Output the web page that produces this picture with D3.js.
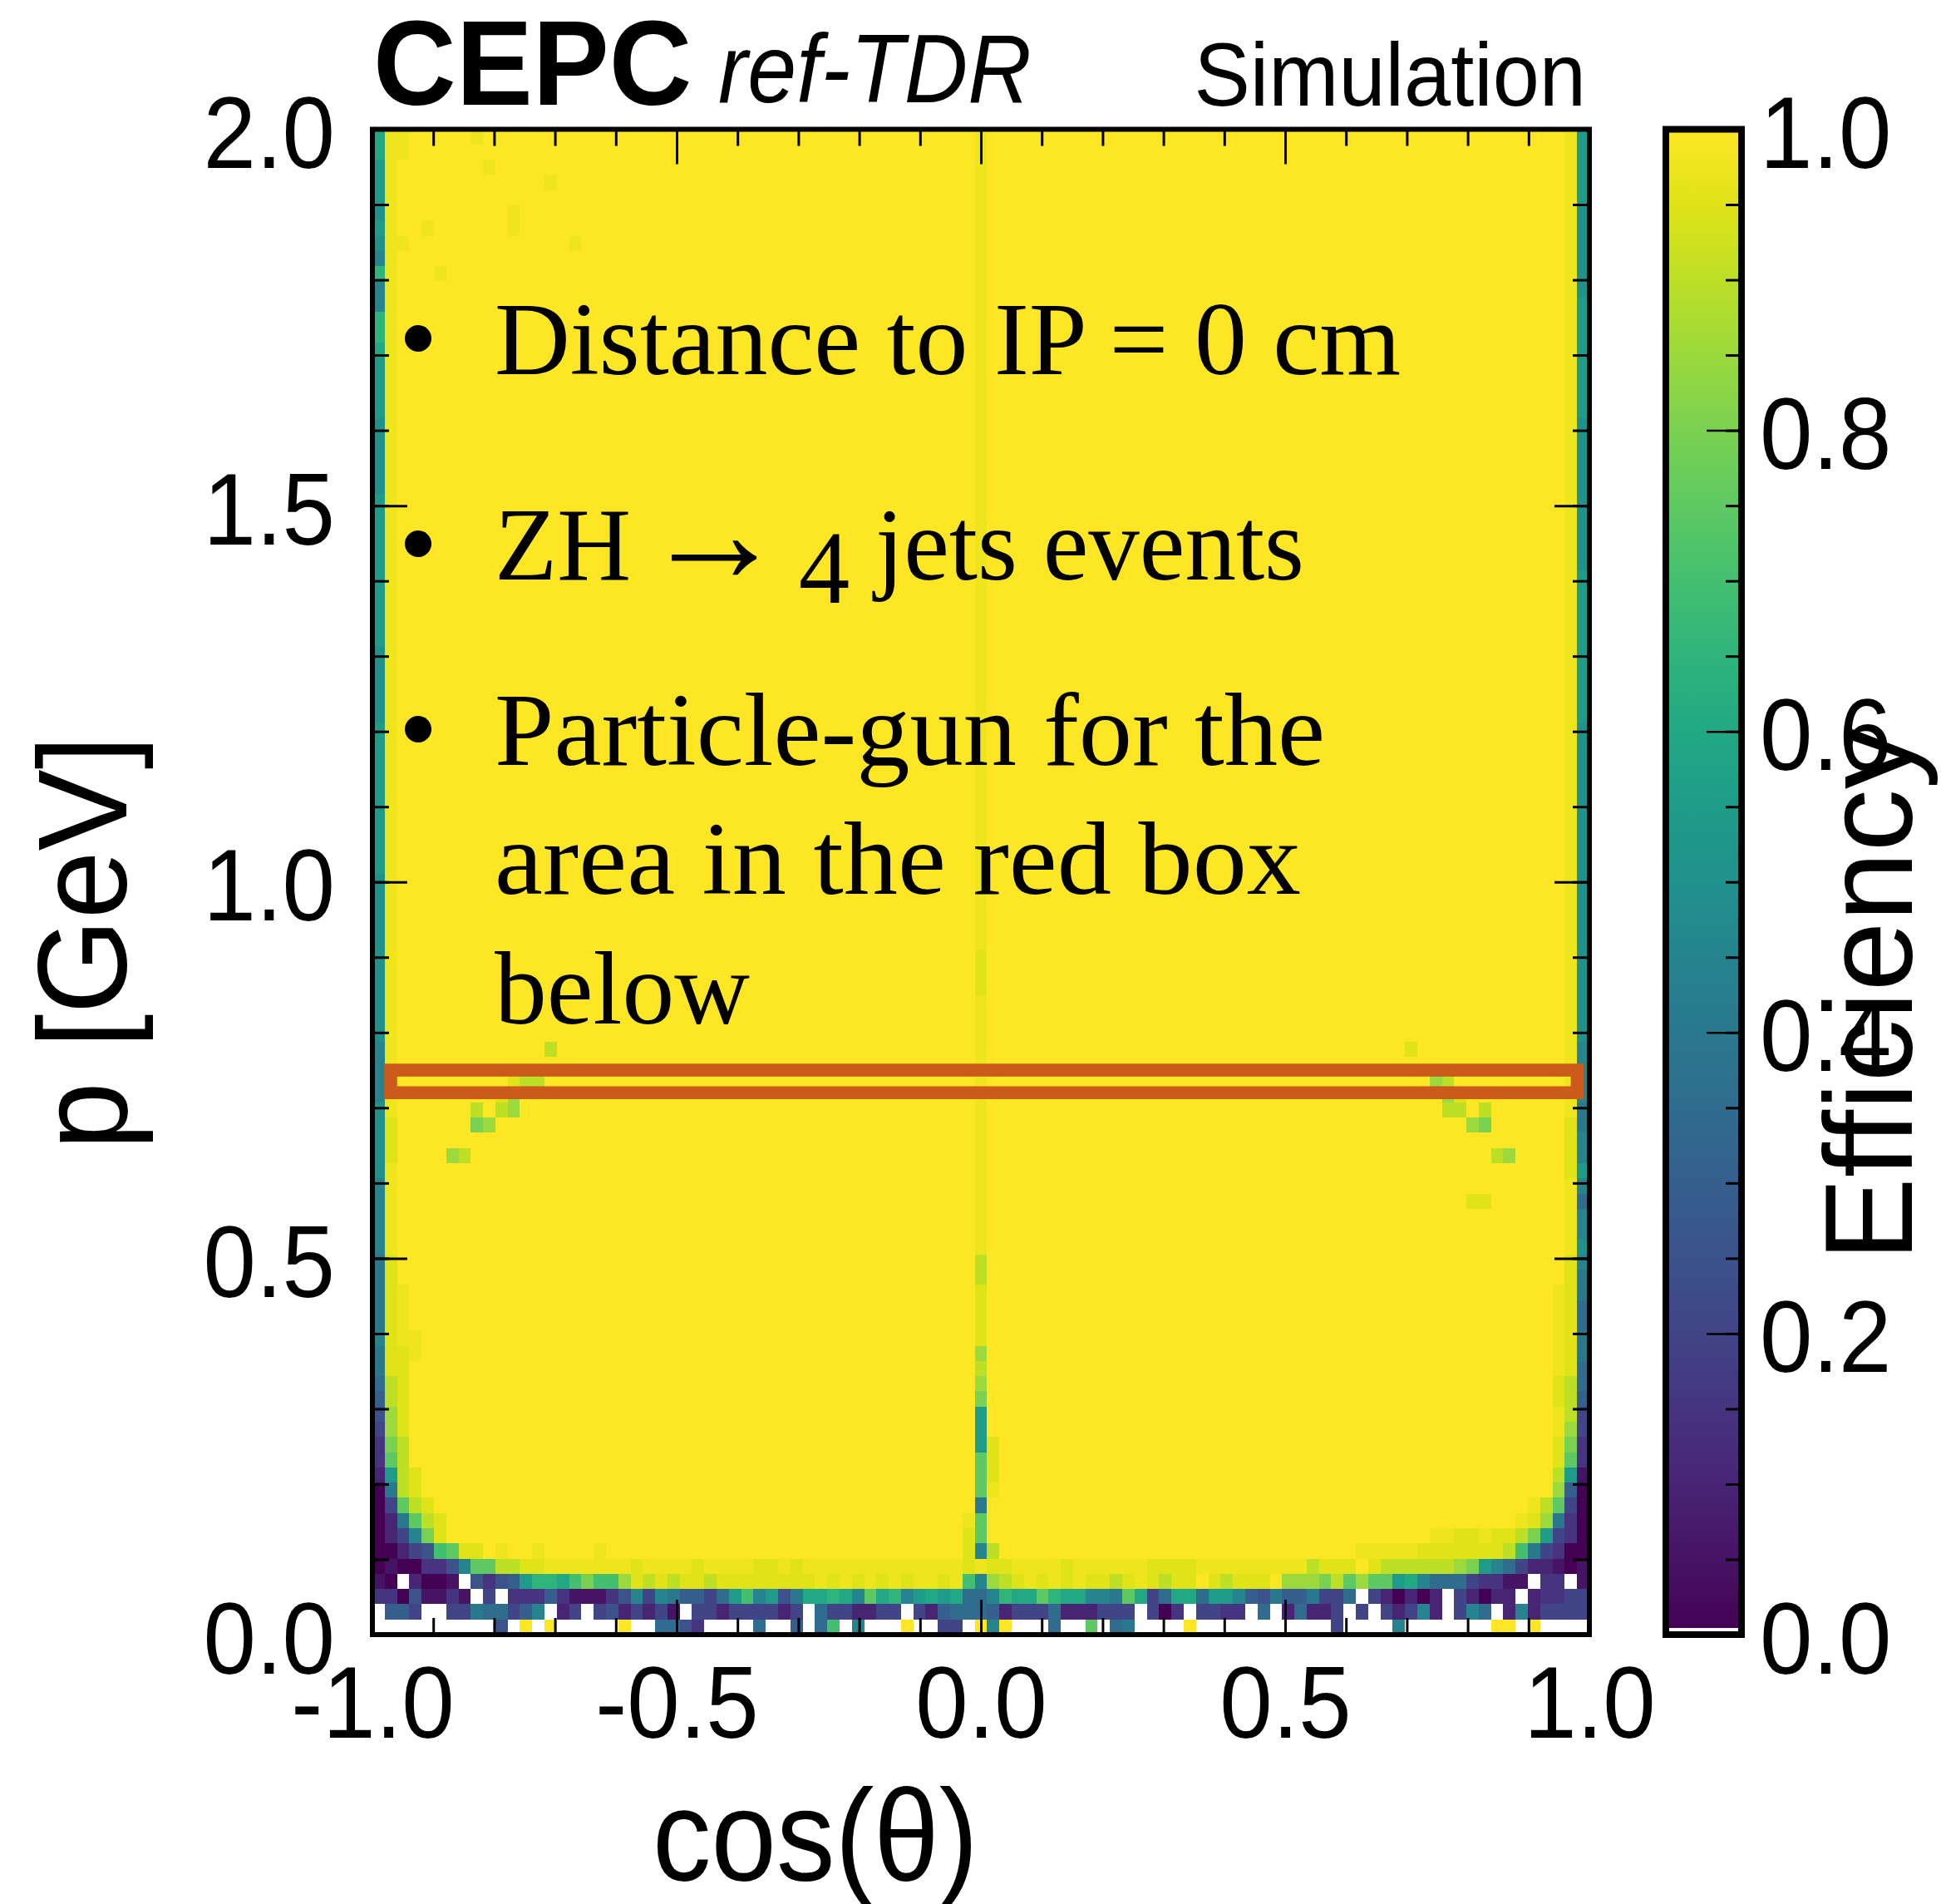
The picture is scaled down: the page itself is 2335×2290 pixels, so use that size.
<!DOCTYPE html>
<html>
<head>
<meta charset="utf-8">
<script src="https://cdn.jsdelivr.net/npm/d3@7"></script>
<style>
body { margin: 0; background: #fff; }
svg { display: block; }
</style>
</head>
<body>
<div id="chart"></div>
<script>
/*
 * efficiency map, p vs cos(theta), 99 x 99 bins
 */

var cosRange = [-1, 1];
var pRange = [0, 2];
var nCosBins = 99;
var nPBins = 99;

var xMajorTicks = [-1, -0.5, 0, 0.5, 1];
var yMajorTicks = [0, 0.5, 1, 1.5, 2];
var zMajorTicks = [0, 0.2, 0.4, 0.6, 0.8, 1];
var xMinorStep = 0.1, yMinorStep = 0.1, zMinorStep = 0.05;

/* one char per bin: index in effLevels / 20, "z" = 0.975, "." = no entries */
var effLevels = "0123456789ABCDEFGHIJK";

/* rows from top (p ~ 2 GeV) to bottom (p ~ 0), columns cos = -1 .. 1, grouped by 10 */
var effRows = [
"CzzKKKKKzK KKKKKKKKKK KKKKKKKKKK KKKKKKKKKK KKKKKKKKKz KKKKKKKKKK KKKKKKKKKK KKKKKKKKKK KKKKKKKKKK KKKKKKKzB",
"CzzKKKKKKK KKKKKKKKKK KKKKKKKKKK KKKKKKKKKK KKKKKKKKKz KKKKKKKKKK KKKKKKKKKK KKKKKKKKKK KKKKKKKKKK KKKKKKKzB",
"BzKKKKKKKz KKKKKKKKKK KKKKKKKKKK KKKKKKKKKK KKKKKKKKKz KKKKKKKKKK KKKKKKKKKK KKKKKKKKKK KKKKKKKKKK KKKKKKKzB",
"BzKKKKKKKK KKKKzKKKKK KKKKKKKKKK KKKKKKKKKK KKKKKKKKKz KKKKKKKKKK KKKKKKKKKK KKKKKKKKKK KKKKKKKKKK KKKKKKKzB",
"BzKKKKKKKK KKKKKKKKKK KKKKKKKKKK KKKKKKKKKK KKKKKKKKKz KKKKKKKKKK KKKKKKKKKK KKKKKKKKKK KKKKKKKKKK KKKKKKKzB",
"AzKKKKKKKK KzKKKKKKKK KKKKKKKKKK KKKKKKKKKK KKKKKKKKKz KKKKKKKKKK KKKKKKKKKK KKKKKKKKKK KKKKKKKKKK KKKKKKKzA",
"BzKKzKKKKK KzKKKKKKKK KKKKKKKKKK KKKKKKKKKK KKKKKKKKKz KKKKKKKKKK KKKKKKKKKK KKKKKKKKKK KKKKKKKKKK KKKKKKKzA",
"AzzKKKKKKK KKKKKKzKKK KKKKKKKKKK KKKKKKKKKK KKKKKKKKKz KKKKKKKKKK KKKKKKKKKK KKKKKKKKKK KKKKKKKKKK KKKKKKKzA",
"9zKKKKKKKK KKKKKKKKKK KKKKKKKKKK KKKKKKKKKK KKKKKKKKKz KKKKKKKKKK KKKKKKKKKK KKKKKKKKKK KKKKKKKKKK KKKKKKKzA",
"DzKKKzKKKK KKKKKKKKKK KKKKKKKKKK KKKKKKKKKK KKKKKKKKKz KKKKKKKKKK KKKKKKKKKK KKKKKKKKKK KKKKKKKKKK KKKKKKKzA",
"9zKKKKKKKK KKKKKKKKKK KKKKKKKKKK KKKKKKKKKK KKKKKKKKKz KKKKKKKKKK KKKKKKKKKK KKKKKKKKKK KKKKKKKKKK KKKKKKKzA",
"9zKKKKKKKK KKKKKKKKKK KKKKKKKKKK KKKKKKKKKK KKKKKKKKKz KKKKKKKKKK KKKKKKKKKK KKKKKKKKKK KKKKKKKKKK KKKKKKKzB",
"DzKKKKKKKK KKKKKKKKKK KKKKKKKKKK KKKKKKKKKK KKKKKKKKKz KKKKKKKKKK KKKKKKKKKK KKKKKKKKKK KKKKKKKKKK KKKKKKKzB",
"DzKKKKKKKK KKKKKKKKKK KKKKKKKKKK KKKKKKKKKK KKKKKKKKKz KKKKKKKKKK KKKKKKKKKK KKKKKKKKKK KKKKKKKKKK KKKKKKKzB",
"CzKKKKKKKK KKKKKKKKKK KKKKKKKKKK KKKKKKKKKK KKKKKKKKKz KKKKKKKKKK KKKKKKKKKK KKKKKKKKKK KKKKKKKKKK KKKKKKKzB",
"BzKKKKKKKK KKKKKKKKKK KKKKKKKKKK KKKKKKKKKK KKKKKKKKKz KKKKKKKKKK KKKKKKKKKK KKKKKKKKKK KKKKKKKKKK KKKKKKKzB",
"BzKKKKKKKK KKKKKKKKKK KKKKKKKKKK KKKKKKKKKK KKKKKKKKKz KKKKKKKKKK KKKKKKKKKK KKKKKKKKKK KKKKKKKKKK KKKKKKKzB",
"BzKKKKKKKK KKKKKKKKKK KKKKKKKKKK KKKKKKKKKK KKKKKKKKKz KKKKKKKKKK KKKKKKKKKK KKKKKKKKKK KKKKKKKKKK KKKKKKKzB",
"BzKKKKKKKK KKKKKKKKKK KKKKKKKKKK KKKKKKKKKK KKKKKKKKKz KKKKKKKKKK KKKKKKKKKK KKKKKKKKKK KKKKKKKKKK KKKKKKKzB",
"AzKKKKKKKK KKKKKKKKKK KKKKKKKKKK KKKKKKKKKK KKKKKKKKKz KKKKKKKKKK KKKKKKKKKK KKKKKKKKKK KKKKKKKKKK KKKKKKKzA",
"AzKKKKKKKK KKKKKKKKKK KKKKKKKKKK KKKKKKKKKK KKKKKKKKKz KKKKKKKKKK KKKKKKKKKK KKKKKKKKKK KKKKKKKKKK KKKKKKKzA",
"AzKKKKKKKK KKKKKKKKKK KKKKKKKKKK KKKKKKKKKK KKKKKKKKKz KKKKKKKKKK KKKKKKKKKK KKKKKKKKKK KKKKKKKKKK KKKKKKKzA",
"AzKKKKKKKK KKKKKKKKKK KKKKKKKKKK KKKKKKKKKK KKKKKKKKKz KKKKKKKKKK KKKKKKKKKK KKKKKKKKKK KKKKKKKKKK KKKKKKKzA",
"AzKKKKKKKK KKKKKKKKKK KKKKKKKKKK KKKKKKKKKK KKKKKKKKKz KKKKKKKKKK KKKKKKKKKK KKKKKKKKKK KKKKKKKKKK KKKKKKKzA",
"BzKKKKKKKK KKKKKKKKKK KKKKKKKKKK KKKKKKKKKK KKKKKKKKKz KKKKKKKKKK KKKKKKKKKK KKKKKKKKKK KKKKKKKKKK KKKKKKKzA",
"BzKKKKKKKK KKKKKKKKKK KKKKKKKKKK KKKKKKKKKK KKKKKKKKKz KKKKKKKKKK KKKKKKKKKK KKKKKKKKKK KKKKKKKKKK KKKKKKKzA",
"BzKKKKKKKK KKKKKKKKKK KKKKKKKKKK KKKKKKKKKK KKKKKKKKKz KKKKKKKKKK KKKKKKKKKK KKKKKKKKKK KKKKKKKKKK KKKKKKKzA",
"BzKKKKKKKK KKKKKKKKKK KKKKKKKKKK KKKKKKKKKK KKKKKKKKKz KKKKKKKKKK KKKKKKKKKK KKKKKKKKKK KKKKKKKKKK KKKKKKKzA",
"BzKKKKKKKK KKKKKKKKKK KKKKKKKKKK KKKKKKKKKK KKKKKKKKKz KKKKKKKKKK KKKKKKKKKK KKKKKKKKKK KKKKKKKKKK KKKKKKKzA",
"BzKKKKKKKK KKKKKKKKKK KKKKKKKKKK KKKKKKKKKK KKKKKKKKKz KKKKKKKKKK KKKKKKKKKK KKKKKKKKKK KKKKKKKKKK KKKKKKKzB",
"BzKKKKKKKK KKKKKKKKKK KKKKKKKKKK KKKKKKKKKK KKKKKKKKKz KKKKKKKKKK KKKKKKKKKK KKKKKKKKKK KKKKKKKKKK KKKKKKKzB",
"BzKKKKKKKK KKKKKKKKKK KKKKKKKKKK KKKKKKKKKK KKKKKKKKKz KKKKKKKKKK KKKKKKKKKK KKKKKKKKKK KKKKKKKKKK KKKKKKKzB",
"BzKKKKKKKK KKKKKKKKKK KKKKKKKKKK KKKKKKKKKK KKKKKKKKKz KKKKKKKKKK KKKKKKKKKK KKKKKKKKKK KKKKKKKKKK KKKKKKKzB",
"BzKKKKKKKK KKKKKKKKKK KKKKKKKKKK KKKKKKKKKK KKKKKKKKKz KKKKKKKKKK KKKKKKKKKK KKKKKKKKKK KKKKKKKKKK KKKKKKKzB",
"AzKKKKKKKK KKKKKKKKKK KKKKKKKKKK KKKKKKKKKK KKKKKKKKKz KKKKKKKKKK KKKKKKKKKK KKKKKKKKKK KKKKKKKKKK KKKKKKKzB",
"AzKKKKKKKK KKKKKKKKKK KKKKKKKKKK KKKKKKKKKK KKKKKKKKKz KKKKKKKKKK KKKKKKKKKK KKKKKKKKKK KKKKKKKKKK KKKKKKKzB",
"AzKKKKKKKK KKKKKKKKKK KKKKKKKKKK KKKKKKKKKK KKKKKKKKKz KKKKKKKKKK KKKKKKKKKK KKKKKKKKKK KKKKKKKKKK KKKKKKKzB",
"AzKKKKKKKK KKKKKKKKKK KKKKKKKKKK KKKKKKKKKK KKKKKKKKKz KKKKKKKKKK KKKKKKKKKK KKKKKKKKKK KKKKKKKKKK KKKKKKKzB",
"AzKKKKKKKK KKKKKKKKKK KKKKKKKKKK KKKKKKKKKK KKKKKKKKKz KKKKKKKKKK KKKKKKKKKK KKKKKKKKKK KKKKKKKKKK KKKKKKKzB",
"BzKKKKKKKK KKKKKKKKKK KKKKKKKKKK KKKKKKKKKK KKKKKKKKKz KKKKKKKKKK KKKKKKKKKK KKKKKKKKKK KKKKKKKKKK KKKKKKKzA",
"BzKKKKKKKK KKKKKKKKKK KKKKKKKKKK KKKKKKKKKK KKKKKKKKKz KKKKKKKKKK KKKKKKKKKK KKKKKKKKKK KKKKKKKKKK KKKKKKKzA",
"BzKKKKKKKK KKKKKKKKKK KKKKKKKKKK KKKKKKKKKK KKKKKKKKKz KKKKKKKKKK KKKKKKKKKK KKKKKKKKKK KKKKKKKKKK KKKKKKKzA",
"BzKKKKKKKK KKKKKKKKKK KKKKKKKKKK KKKKKKKKKK KKKKKKKKKz KKKKKKKKKK KKKKKKKKKK KKKKKKKKKK KKKKKKKKKK KKKKKKKzA",
"BzKKKKKKKK KKKKKKKKKK KKKKKKKKKK KKKKKKKKKK KKKKKKKKKz KKKKKKKKKK KKKKKKKKKK KKKKKKKKKK KKKKKKKKKK KKKKKKKzA",
"BzKKKKKKKK KKKKKKKKKK KKKKKKKKKK KKKKKKKKKK KKKKKKKKKz KKKKKKKKKK KKKKKKKKKK KKKKKKKKKK KKKKKKKKKK KKKKKKKzA",
"BzKKKKKKKK KKKKKKKKKK KKKKKKKKKK KKKKKKKKKK KKKKKKKKKz KKKKKKKKKK KKKKKKKKKK KKKKKKKKKK KKKKKKKKKK KKKKKKKzA",
"BzKKKKKKKK KKKKKKKKKK KKKKKKKKKK KKKKKKKKKK KKKKKKKKKz KKKKKKKKKK KKKKKKKKKK KKKKKKKKKK KKKKKKKKKK KKKKKKKzA",
"BzKKKKKKKK KKKKKKKKKK KKKKKKKKKK KKKKKKKKKK KKKKKKKKKz KKKKKKKKKK KKKKKKKKKK KKKKKKKKKK KKKKKKKKKK KKKKKKKzA",
"BzKKKKKKKK KKKKKKKKKK KKKKKKKKKK KKKKKKKKKK KKKKKKKKKz KKKKKKKKKK KKKKKKKKKK KKKKKKKKKK KKKKKKKKKK KKKKKKKzA",
"AzKKKKKKKK KKKKKKKKKK KKKKKKKKKK KKKKKKKKKK KKKKKKKKKz KKKKKKKKKK KKKKKKKKKK KKKKKKKKKK KKKKKKKKKK KKKKKKKzA",
"AzKKKKKKKK KKKKKKKKKK KKKKKKKKKK KKKKKKKKKK KKKKKKKKKz KKKKKKKKKK KKKKKKKKKK KKKKKKKKKK KKKKKKKKKK KKKKKKKzA",
"AzKKKKKKKK KKKKKKKKKK KKKKKKKKKK KKKKKKKKKK KKKKKKKKKz KKKKKKKKKK KKKKKKKKKK KKKKKKKKKK KKKKKKKKKK KKKKKKKzA",
"AzKKKKKKKK KKKKKKKKKK KKKKKKKKKK KKKKKKKKKK KKKKKKKKKz KKKKKKKKKK KKKKKKKKKK KKKKKKKKKK KKKKKKKKKK KKKKKKKzA",
"AzKKKKKKKK KKKKKKKKKK KKKKKKKKKK KKKKKKKKKK KKKKKKKKKz KKKKKKKKKK KKKKKKKKKK KKKKKKKKKK KKKKKKKKKK KKKKKKKzA",
"AzKKKKKKKK KKKKKKKKKK KKKKKKKKKK KKKKKKKKKK KKKKKKKKKJ KKKKKKKKKK KKKKKKKKKK KKKKKKKKKK KKKKKKKKKK KKKKKKKzA",
"AzKKKKKKKK KKKKKKKKKK KKKKKKKKKK KKKKKKKKKK KKKKKKKKKJ KKKKKKKKKK KKKKKKKKKK KKKKKKKKKK KKKKKKKKKK KKKKKKKzA",
"AzKKKKKKKK KKKKKKKKKK KKKKKKKKKK KKKKKKKKKK KKKKKKKKKJ KKKKKKKKKK KKKKKKKKKK KKKKKKKKKK KKKKKKKKKK KKKKKKKzA",
"AzKKKKKKKK KKKKKKKKKK KKKKKKKKKK KKKKKKKKKK KKKKKKKKKz KKKKKKKKKK KKKKKKKKKK KKKKKKKKKK KKKKKKKKKK KKKKKKKzA",
"AzKKKKKKKK KKKKKKKKKK KKKKKKKKKK KKKKKKKKKK KKKKKKKKKz KKKKKKKKKK KKKKKKKKKK KKKKKKKKKK KKKKKKKKKK KKKKKKKzA",
"AzKKKKKKKK KKKKKKKKKK KKKKKKKKKK KKKKKKKKKK KKKKKKKKKz KKKKKKKKKK KKKKKKKKKK KKKKKKKKKK KKKKKKKKKK KKKKKKKzA",
"9zKKKKKKKK KKKKIKKKKK KKKKKKKKKK KKKKKKKKKK KKKKKKKKKz KKKKKKKKKK KKKKKKKKKK KKKKKKKKKK KKKKJKKKKK KKKKKKKz9",
"9zKKKKKKKK KKKKKKKKKK KKKKKKKKKK KKKKKKKKKK KKKKKKKKKz KKKKKKKKKK KKKKKKKKKK KKKKKKKKKK KKKKKKKKKK KKKKKKKz9",
"9zKKKKKKKK KJIIKKKKKK KKKKKKKKKK KKKKKKKKKK KKKKKKKKKz KKKKKKKKKK KKKKKKKKKK KKKKKKKKKK KKKKKKHIKK KKKKKKKz9",
"9zKKKKKKKK JHKKKKKKKK KKKKKKKKKK KKKKKKKKKK KKKKKKKKKz KKKKKKKKKK KKKKKKKKKK KKKKKKKKKK KKKKKKKHJK KKKKKKKz9",
"AzKKKKKKIK IHKKKKKKKK KKKKKKKKKK KKKKKKKKKK KKKKKKKKKz KKKKKKKKKK KKKKKKKKKK KKKKKKKKKK KKKKKKKIIK IKKKKKKz8",
"AJKKKKKKGH KKKKKKKKKK KKKKKKKKKK KKKKKKKKKK KKKKKKKKKz KKKKKKKKKK KKKKKKKKKK KKKKKKKKKK KKKKKKKKKH GKKKKKKJ8",
"AJKKKKKKKK KKKKKKKKKK KKKKKKKKKK KKKKKKKKKK KKKKKKKKKz KKKKKKKKKK KKKKKKKKKK KKKKKKKKKK KKKKKKKKKK KKKKKKKJ9",
"AJKKKKHIKK KKKKKKKKKK KKKKKKKKKK KKKKKKKKKK KKKKKKKKKz KKKKKKKKKK KKKKKKKKKK KKKKKKKKKK KKKKKKKKKK KIHKKKKJ9",
"AzKKKKKKKK KKKKKKKKKK KKKKKKKKKK KKKKKKKKKK KKKKKKKKKz KKKKKKKKKK KKKKKKKKKK KKKKKKKKKK KKKKKKKKKK KKKKKKKJB",
"9zKKKKKKKK KKKKKKKKKK KKKKKKKKKK KKKKKKKKKK KKKKKKKKKz KKKKKKKKKK KKKKKKKKKK KKKKKKKKKK KKKKKKKKKK KKKKKKKz9",
"9zKKKKKKKK KKKKKKKKKK KKKKKKKKKK KKKKKKKKKK KKKKKKKKKz KKKKKKKKKK KKKKKKKKKK KKKKKKKKKK KKKKKKKKKJ JKKKKKKz7",
"9zKKKKKKKK KKKKKKKKKK KKKKKKKKKK KKKKKKKKKK KKKKKKKKKz KKKKKKKKKK KKKKKKKKKK KKKKKKKKKK KKKKKKKKKK KKKKKKKz9",
"9zKKKKKKKK KKKKKKKKKK KKKKKKKKKK KKKKKKKKKK KKKKKKKKKz KKKKKKKKKK KKKKKKKKKK KKKKKKKKKK KKKKKKKKKK KKKKKKKz9",
"9zKKKKKKKK KKKKKKKKKK KKKKKKKKKK KKKKKKKKKK KKKKKKKKKz KKKKKKKKKK KKKKKKKKKK KKKKKKKKKK KKKKKKKKKK KKKKKKKzA",
"8JKKKKKKKK KKKKKKKKKK KKKKKKKKKK KKKKKKKKKK KKKKKKKKKI KKKKKKKKKK KKKKKKKKKK KKKKKKKKKK KKKKKKKKKK KKKKKKKJ9",
"8JKKKKKKKK KKKKKKKKKK KKKKKKKKKK KKKKKKKKKK KKKKKKKKKI KKKKKKKKKK KKKKKKKKKK KKKKKKKKKK KKKKKKKKKK KKKKKKKJ8",
"8JzKKKKKKK KKKKKKKKKK KKKKKKKKKK KKKKKKKKKK KKKKKKKKKJ KKKKKKKKKK KKKKKKKKKK KKKKKKKKKK KKKKKKKKKK KKKKKKzJ8",
"8JzKKKKKKK KKKKKKKKKK KKKKKKKKKK KKKKKKKKKK KKKKKKKKKJ KKKKKKKKKK KKKKKKKKKK KKKKKKKKKK KKKKKKKKKK KKKKKKzJ7",
"8JzKKKKKKK KKKKKKKKKK KKKKKKKKKK KKKKKKKKKK KKKKKKKKKJ KKKKKKKKKK KKKKKKKKKK KKKKKKKKKK KKKKKKKKKK KKKKKKzJ7",
"9JzzKKKKKK KKKKKKKKKK KKKKKKKKKK KKKKKKKKKK KKKKKKKKKJ KKKKKKKKKK KKKKKKKKKK KKKKKKKKKK KKKKKKKKKK KKKKKKzJ8",
"8JJzKKKKKK KKKKKKKKKK KKKKKKKKKK KKKKKKKKKK KKKKKKKKKH KKKKKKKKKK KKKKKKKKKK KKKKKKKKKK KKKKKKKKKK KKKKKKzJ8",
"8JJKKKKKKK KKKKKKKKKK KKKKKKKKKK KKKKKKKKKK KKKKKKKKKI KKKKKKKKKK KKKKKKKKKK KKKKKKKKKK KKKKKKKKKK KKKKKKzJ7",
"7IJKKKKKKK KKKKKKKKKK KKKKKKKKKK KKKKKKKKKK KKKKKKKKKH KKKKKKKKKK KKKKKKKKKK KKKKKKKKKK KKKKKKKKKK KKKKKKJI7",
"6IJKKKKKKK KKKKKKKKKK KKKKKKKKKK KKKKKKKKKK KKKKKKKKKG KKKKKKKKKK KKKKKKKKKK KKKKKKKKKK KKKKKKKKKK KKKKKKJI6",
"5HJKKKKKKK KKKKKKKKKK KKKKKKKKKK KKKKKKKKKK KKKKKKKKKB KKKKKKKKKK KKKKKKKKKK KKKKKKKKKK KKKKKKKKKK KKKKKKzI4",
"4HJKKKKKKK KKKKKKKKKK KKKKKKKKKK KKKKKKKKKK KKKKKKKKKB KKKKKKKKKK KKKKKKKKKK KKKKKKKKKK KKKKKKKKKK KKKKKKzH4",
"3GIKKKKKKK KKKKKKKKKK KKKKKKKKKK KKKKKKKKKK KKKKKKKKKB JKKKKKKKKK KKKKKKKKKK KKKKKKKKKK KKKKKKKKKK KKKKKKJG3",
"3FIKKKKKKK KKKKKKKKKK KKKKKKKKKK KKKKKKKKKK KKKKKKKKKF JKKKKKKKKK KKKKKKKKKK KKKKKKKKKK KKKKKKKKKK KKKKKKJF3",
"2BIJKKKKKK KKKKKKKKKK KKKKKKKKKK KKKKKKKKKK KKKKKKKKKF JKKKKKKKKK KKKKKKKKKK KKKKKKKKKK KKKKKKKKKK KKKKKKIB1",
"08IJKKKKKK KKKKKKKKKK KKKKKKKKKK KKKKKKKKKK KKKKKKKKKF zKKKKKKKKK KKKKKKKKKK KKKKKKKKKK KKKKKKKKKK KKKKKKH60",
"04FIJKKKKK KKKKKKKKKK KKKKKKKKKK KKKKKKKKKK KKKKKKKKK8 KKKKKKKKKK KKKKKKKKKK KKKKKKKKKK KKKKKKKKKK KKKKzIF40",
"028FIJKKKK KKKKKKKKKK KKKKKKKKKK KKKKKKKKKK KKKKKKKKzF KKKKKKKKKK KKKKKKKKKK KKKKKKKKKK KKKKKKKKKK KKKzJH830",
"0249GJKKKK KKKKKKKKKK KKKKKKKKKK KKKKKKKKKK KKKKKKKKJF KKKKKKKKKK KKKKKKKKKK KKKKKKKKKK KKKKKKzzJJ zJJIGB430",
"00245EFJJK zKKzKKKKzK KKKKKKKKKK KKKKKKKKKK KKKKKKKKJ9 IKKKKKKKKK KKKKKKKKKK KKKKKKKKKK zzzzzJJJJJ JJIE84300",
"01003359FF IIJJzzzzzz zJzzzzJzzz zJJzJzzzzz zzzzzzzzJz JJzzzzJzzz zzzJJJJzzz zzzzzzIJJJ KJIIIIIIHG B97422101",
"10.2001.53 56BDDCEGEE HJIJIJJIJJ JJJJJJzJzJ zJzJzzJzE9 HIJzJzJzJJ IJzJIJJKJI JJJKHHHGIF HFFBC97774 3311.33.1",
"33051131.4 .333631113 594986647B E9B58CCDC9 FCD9BCBC77 9DCCFDCC99 8FC47CC7BB 9658668447 .420202.42 022.23344",
".664..4487 7469.24.45 24241.4424 44424.7442 244.426777 6244472224 44.403.443 3.7.27224. 4.42492.49 7.2924444",
".......... 5.K.K..... K..7753... .7..6.7E.9 ...K..44.K 9K...7..F. 78....K... ........4. ...9...... .KK.K...."
];

var redBox = { cos: [-0.97, 0.98], p: [0.72, 0.75] };

var bullets = [
	["Distance to IP = 0 cm"],
	["ZH \u2192 4 jets events"],
	["Particle-gun for the", "area in the red box", "below"]
];

var w = 2335, h = 2290;
var plot = { left: 448, right: 1912, top: 155.5, bottom: 1966 };
var sans = "'Liberation Sans', Arimo, Arial, Helvetica, sans-serif";
var serif = "'Liberation Serif', 'Times New Roman', 'DejaVu Serif', serif";

var xScale = d3.scaleLinear().domain(cosRange).range([plot.left, plot.right]);
var yScale = d3.scaleLinear().domain(pRange).range([plot.bottom, plot.top]);
var zScale = d3.scaleLinear().domain([0, 1]).range([plot.bottom, plot.top]);

var svg = d3.select("#chart").append("svg").attr("width", w).attr("height", h);
svg.append("rect").attr("width", w).attr("height", h).attr("fill", "#fff");

/* bins */
var cosStep = (cosRange[1] - cosRange[0]) / nCosBins;
var pStep = (pRange[1] - pRange[0]) / nPBins;
var cells = [];
effRows.forEach(function (row, r) {
	var s = row.replace(/ /g, "");
	if (s.length !== nCosBins) console.error("row " + r + " has " + s.length + " bins");
	var j = nPBins - 1 - r;
	for (var i = 0; i < nCosBins; ++i) {
		var c = s.charAt(i) || "K";
		var v = (c === ".") ? null : (c === "z" ? 0.975 : effLevels.indexOf(c) / 20);
		cells.push({ i: i, j: j, v: v });
	}
});

function bx(i) { return Math.round(xScale(cosRange[0] + i * cosStep)); }
function by(j) { return Math.round(yScale(pRange[0] + j * pStep)); }

svg.append("g").selectAll("rect").data(cells).enter()
	.append("rect")
	.attr("x", function (d) { return bx(d.i); })
	.attr("width", function (d) { return bx(d.i + 1) - bx(d.i); })
	.attr("y", function (d) { return by(d.j + 1); })
	.attr("height", function (d) { return by(d.j) - by(d.j + 1); })
	.attr("fill", function (d) { return d.v === null ? "#ffffff" : d3.interpolateViridis(d.v); })
	.attr("shape-rendering", "crispEdges");

/* axes, ticks inside like ROOT */
function ticksOnly(g) {
	g.select(".domain").remove();
	g.selectAll(".tick line").attr("stroke", "#000").attr("stroke-width", 3);
}
function minor(lo, hi, step) {
	return d3.range(Math.round((hi - lo) / step) + 1).map(function (k) { return lo + k * step; });
}
function fmt(d) { return d.toFixed(1); }

var xMinor = minor(cosRange[0], cosRange[1], xMinorStep);
var yMinor = minor(pRange[0], pRange[1], yMinorStep);
var zMinor = minor(0, 1, zMinorStep);

svg.append("g").attr("transform", "translate(0," + plot.bottom + ")")
	.call(d3.axisBottom(xScale).tickValues(xMinor).tickSize(-20).tickFormat("")).call(ticksOnly);
svg.append("g").attr("transform", "translate(0," + plot.top + ")")
	.call(d3.axisTop(xScale).tickValues(xMinor).tickSize(-20).tickFormat("")).call(ticksOnly);
svg.append("g").attr("transform", "translate(0," + plot.top + ")")
	.call(d3.axisTop(xScale).tickValues(xMajorTicks).tickSize(-42).tickFormat("")).call(ticksOnly);
svg.append("g").attr("transform", "translate(" + plot.left + ",0)")
	.call(d3.axisLeft(yScale).tickValues(yMinor).tickSize(-20).tickFormat("")).call(ticksOnly);
svg.append("g").attr("transform", "translate(" + plot.right + ",0)")
	.call(d3.axisRight(yScale).tickValues(yMinor).tickSize(-20).tickFormat("")).call(ticksOnly);
svg.append("g").attr("transform", "translate(" + plot.right + ",0)")
	.call(d3.axisRight(yScale).tickValues(yMajorTicks).tickSize(-42).tickFormat("")).call(ticksOnly);

var xAxis = svg.append("g").attr("transform", "translate(0," + plot.bottom + ")")
	.call(d3.axisBottom(xScale).tickValues(xMajorTicks).tickSize(-42).tickFormat(fmt)).call(ticksOnly);
xAxis.attr("font-size", 114).attr("font-family", sans);
xAxis.selectAll(".tick text").attr("y", null).attr("dy", null)
	.attr("transform", "translate(0,124) scale(1,1.07)");

var yAxis = svg.append("g").attr("transform", "translate(" + plot.left + ",0)")
	.call(d3.axisLeft(yScale).tickValues(yMajorTicks).tickSize(-42).tickFormat(fmt)).call(ticksOnly);
yAxis.attr("font-size", 114).attr("font-family", sans);
yAxis.selectAll(".tick text").attr("x", null).attr("dy", null)
	.attr("transform", "translate(-45,46) scale(1,1.07)");

/* frame */
svg.append("rect")
	.attr("x", plot.left).attr("y", plot.top)
	.attr("width", plot.right - plot.left).attr("height", plot.bottom - plot.top)
	.attr("fill", "none").attr("stroke", "#000").attr("stroke-width", 6);

/* red box */
svg.append("rect")
	.attr("x", xScale(redBox.cos[0])).attr("y", yScale(redBox.p[1]))
	.attr("width", xScale(redBox.cos[1]) - xScale(redBox.cos[0]))
	.attr("height", yScale(redBox.p[0]) - yScale(redBox.p[1]))
	.attr("fill", "none").attr("stroke", "#cc5a1b").attr("stroke-width", 15.5);

/* colour bar */
var cb = { x: 2004, w: 91 };
var grad = svg.append("defs").append("linearGradient").attr("id", "viridis")
	.attr("x1", 0).attr("y1", 1).attr("x2", 0).attr("y2", 0);
grad.selectAll("stop").data(d3.range(21)).enter().append("stop")
	.attr("offset", function (d) { return d / 20; })
	.attr("stop-color", function (d) { return d3.interpolateViridis(d / 20); });
svg.append("rect").attr("x", cb.x).attr("y", plot.top).attr("width", cb.w)
	.attr("height", plot.bottom - plot.top).attr("fill", "url(#viridis)");
svg.append("rect").attr("x", cb.x).attr("y", plot.bottom - 8).attr("width", cb.w)
	.attr("height", 5).attr("fill", "#fff");

svg.append("g").attr("transform", "translate(" + (cb.x + cb.w) + ",0)")
	.call(d3.axisRight(zScale).tickValues(zMinor).tickSize(-19).tickFormat("")).call(ticksOnly);
var zAxis = svg.append("g").attr("transform", "translate(" + (cb.x + cb.w) + ",0)")
	.call(d3.axisRight(zScale).tickValues(zMajorTicks).tickSize(-42).tickFormat(fmt)).call(ticksOnly);
zAxis.attr("font-size", 114).attr("font-family", sans);
zAxis.selectAll(".tick text").attr("x", null).attr("dy", null)
	.attr("transform", "translate(22,46) scale(1,1.07)");
zAxis.selectAll(".tick line").attr("stroke-width", 2.5);

svg.append("rect").attr("x", cb.x).attr("y", plot.top).attr("width", cb.w)
	.attr("height", plot.bottom - plot.top)
	.attr("fill", "none").attr("stroke", "#000").attr("stroke-width", 8);

/* axis titles */
svg.append("text")
	.attr("transform", "translate(152,1383) rotate(-90) scale(1,1.04)")
	.attr("font-family", sans).attr("font-size", 147)
	.text("p [GeV]");

svg.append("text")
	.attr("transform", "translate(785,2261) scale(1,1.1)")
	.attr("font-family", sans).attr("font-size", 141)
	.text("cos(\u03b8)");

svg.append("text")
	.attr("transform", "translate(2300,1517) rotate(-90)")
	.attr("font-family", sans).attr("font-size", 151)
	.text("Efficiency");

/* header */
svg.append("text")
	.attr("transform", "translate(449,126) scale(1,1.05)")
	.attr("font-family", sans).attr("font-weight", "bold").attr("font-size", 138)
	.text("CEPC");
svg.append("text")
	.attr("transform", "translate(864,123) scale(1,1.1)")
	.attr("font-family", sans).attr("font-style", "italic").attr("font-size", 106)
	.text("ref-TDR");
svg.append("text")
	.attr("transform", "translate(1908,127) scale(1,1.07)")
	.attr("font-family", sans).attr("font-size", 101).attr("text-anchor", "end")
	.text("Simulation");

/* notes */
var lineBase = [[450], [697], [920, 1075, 1231]];
var lineWidth = [[1090], [974], [999, 970, 307]];
var notes = svg.append("g").attr("font-family", serif).attr("font-size", 125).attr("fill", "#000");
bullets.forEach(function (lines, b) {
	notes.append("circle").attr("cx", 503).attr("cy", lineBase[b][0] - 43).attr("r", 16);
	lines.forEach(function (line, k) {
		var t = notes.append("text").attr("x", 595).attr("y", lineBase[b][k])
			.attr("textLength", lineWidth[b][k]).attr("lengthAdjust", "spacingAndGlyphs");
		var m = line.match(/^(.*?)\s*\u2192\s*(\d)(.*)$/);
		if (!m) { t.text(line); return; }
		/* long arrow and old-style figure as in the slide font */
		t.append("tspan").text(m[1]);
		t.append("tspan").attr("font-size", 175).attr("dx", 14).attr("dy", 3).text("\u2192");
		t.append("tspan").attr("dx", 16).attr("dy", 25).text(m[2]);
		t.append("tspan").attr("dy", -28).text(m[3]);
	});
});
</script>
</body>
</html>
